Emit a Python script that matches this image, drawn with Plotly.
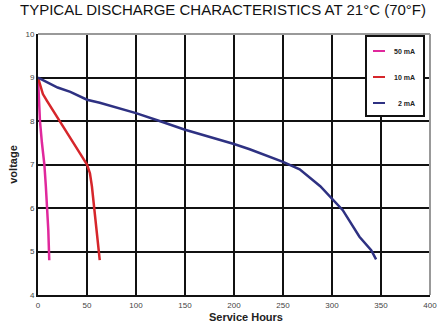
import plotly.graph_objects as go

# ---- data ----
series_names = ["50 mA", "10 mA", "2 mA"]
series_colors = ["#e0289c", "#d6262b", "#2e3182"]

hours_50 = [0, 2, 4, 6.5, 8, 9.5, 10.5, 11.5]
volt_50 = [9.0, 8.0, 7.5, 7.0, 6.5, 6.0, 5.5, 4.8]

hours_10 = [0, 2, 5, 9, 15, 22, 30, 36, 43, 50, 53, 55, 57, 59, 61, 63]
volt_10 = [9.0, 8.82, 8.62, 8.47, 8.25, 8.0, 7.72, 7.5, 7.25, 7.0, 6.8, 6.5, 6.05, 5.6, 5.2, 4.8]

hours_2 = [0, 10, 20, 33, 50, 63, 100, 124, 150, 200, 216, 250, 267, 288, 300, 311, 328, 340, 345]
volt_2 = [9.0, 8.88, 8.77, 8.67, 8.49, 8.42, 8.18, 8.0, 7.8, 7.47, 7.35, 7.06, 6.89, 6.5, 6.22, 5.95, 5.34, 5.03, 4.82]

x_ticks = [0, 50, 100, 150, 200, 250, 300, 350, 400]
y_ticks = [4, 5, 6, 7, 8, 9, 10]

title_text = "TYPICAL DISCHARGE CHARACTERISTICS AT 21°C (70°F)"
x_title = "Service Hours"
y_title = "voltage"

W, H = 446, 323
ML, MR, MT, MB = 38, 16, 34, 28

fig = go.Figure()
for name, color, xs, ys in zip(series_names, series_colors,
                               [hours_50, hours_10, hours_2],
                               [volt_50, volt_10, volt_2]):
    fig.add_trace(go.Scatter(x=xs, y=ys, mode="lines", name=name,
                             line=dict(color=color, width=2.5),
                             showlegend=False))

fig.update_layout(
    width=W, height=H,
    margin=dict(l=ML, r=MR, t=MT, b=MB),
    paper_bgcolor="white", plot_bgcolor="white",
    font=dict(family="Liberation Sans, Arial, sans-serif", color="#333"),
    title=dict(text=title_text, x=0.5, xanchor="center", xref="container",
               y=0.985, yanchor="top", yref="container",
               font=dict(size=15, color="#111")),
    xaxis=dict(range=[0, 400], tickvals=x_ticks, showgrid=True,
               gridcolor="#111", gridwidth=2, zeroline=False,
               showline=True, linecolor="#111", linewidth=2,
               automargin=False,
               ticks="", ticklabelstandoff=1, tickfont=dict(size=8, color="#444")),
    yaxis=dict(range=[4, 10], tickvals=y_ticks, showgrid=True,
               gridcolor="#111", gridwidth=2, zeroline=False,
               showline=True, linecolor="#111", linewidth=2,
               automargin=False,
               ticks="", tickfont=dict(size=8, color="#444"),
               title=dict(text="<b>" + y_title + "</b>", standoff=6,
                          font=dict(size=11, color="#222"))),
)

# gray top and right border lines
fig.add_shape(type="line", xref="paper", yref="paper", x0=0, x1=1, y0=1, y1=1,
              line=dict(color="#999", width=2))
fig.add_shape(type="line", xref="paper", yref="paper", x0=1, x1=1, y0=0, y1=1,
              line=dict(color="#999", width=2))

# helpers: pixel -> paper coords relative to plot area
pw = W - ML - MR
ph = H - MT - MB
def px(xp):
    return (xp - ML) / pw
def py(yp):
    return 1 - (yp - MT) / ph

# x-axis title
fig.add_annotation(text="<b>" + x_title + "</b>", xref="paper", yref="paper",
                   x=px(246), y=py(317), xanchor="center", yanchor="middle",
                   showarrow=False, font=dict(size=11, color="#222"))

# manual legend box
fig.add_shape(type="rect", xref="paper", yref="paper",
              x0=px(366), x1=px(424), y0=py(116), y1=py(36),
              fillcolor="white", line=dict(color="#111", width=2), layer="above")
entry_y = [51, 77, 103]
for name, color, ey in zip(series_names, series_colors, entry_y):
    fig.add_shape(type="line", xref="paper", yref="paper",
                  x0=px(373), x1=px(385), y0=py(ey), y1=py(ey),
                  line=dict(color=color, width=2), layer="above")
    fig.add_annotation(text="<b>" + name + "</b>", xref="paper", yref="paper",
                       x=px(417), y=py(ey), xanchor="right", yanchor="middle",
                       showarrow=False, font=dict(size=7, color="#222"))

fig.write_html("out.html")
